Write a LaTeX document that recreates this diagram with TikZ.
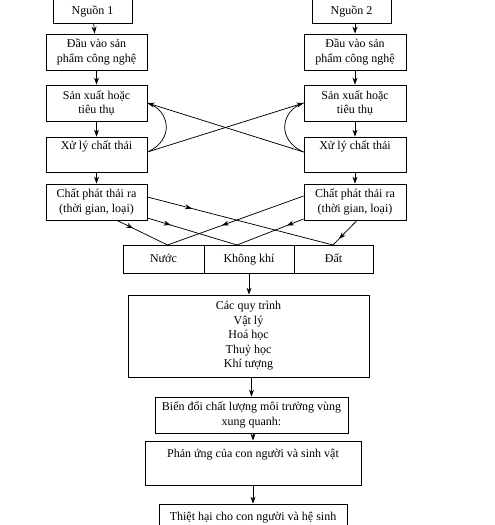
\documentclass[tikz,border=0pt]{standalone}
\usepackage{fontspec}
\setmainfont{Liberation Serif}
\usetikzlibrary{arrows.meta,decorations.markings}
\begin{document}
\begin{tikzpicture}[x=1pt,y=-1pt,
  box/.style={draw,line width=0.8pt,inner sep=0pt,align=center,font=\fontsize{12}{14.5}\selectfont},
  rowbox/.style={box,text height=9pt,text depth=3pt},
  arr/.style={line width=0.75pt,-{Stealth[length=7pt,width=5pt]}},
  ln/.style={line width=0.75pt},
  midarr/.style={line width=0.75pt,postaction={decorate},decoration={markings,mark=at position #1 with {\arrow{Stealth[length=7pt,width=5pt]}}}}
]
\useasboundingbox (0,0) rectangle (495,525);
\fill[white] (0,0) rectangle (495,525);
% left column
\node[box,minimum width=79,minimum height=24] (n1) at (92.5,11) {Nguồn 1};
\node[box,minimum width=101,minimum height=36] (d1) at (96.5,52) {Đầu vào sản\\phẩm công nghệ};
\node[box,minimum width=101,minimum height=36] (s1) at (96.5,103) {Sản xuất hoặc\\tiêu thụ};
\node[box,minimum width=101,minimum height=35] (x1) at (96.5,154.5) {Xử lý chất thải\\\strut};
\node[box,minimum width=101,minimum height=36] (c1) at (96.5,202) {Chất phát thải ra\\(thời gian, loại)};
% right column
\node[box,minimum width=79,minimum height=24] (n2) at (351.5,11) {Nguồn 2};
\node[box,minimum width=102,minimum height=36] (d2) at (355,52) {Đầu vào sản\\phẩm công nghệ};
\node[box,minimum width=102,minimum height=36] (s2) at (355,103) {Sản xuất hoặc\\tiêu thụ};
\node[box,minimum width=102,minimum height=35] (x2) at (355,154.5) {Xử lý chất thải\\\strut};
\node[box,minimum width=102,minimum height=36] (c2) at (355,202) {Chất phát thải ra\\(thời gian, loại)};
% media row
\node[rowbox,minimum width=81,minimum height=28] (w) at (163.5,259) {Nước};
\node[rowbox,minimum width=90,minimum height=28] (a) at (249,259) {Không khí};
\node[rowbox,minimum width=79,minimum height=28] (g) at (333.5,259) {Đất};
% lower chain
\node[box,minimum width=241,minimum height=82] (q) at (248.5,336) {Các quy trình\\Vật lý\\Hoá học\\Thuỷ học\\Khí tượng};
\node[box,minimum width=193,minimum height=36] (b) at (251.5,415) {Biến đổi chất lượng môi trường vùng\\xung quanh:};
\node[box,minimum width=216,minimum height=44] (p) at (253,463) {Phản ứng của con người và sinh vật\\\strut};
\node[box,minimum width=188,minimum height=44] (t) at (253,526) {Thiệt hại cho con người và hệ sinh\\\strut};
% vertical arrows
\draw[arr] (n1) -- (d1);
\draw[arr] (d1) -- (s1);
\draw[arr] (s1) -- (x1);
\draw[arr] (x1) -- (c1);
\draw[arr] (n2.south -| d2) -- (d2);
\draw[arr] (d2) -- (s2);
\draw[arr] (s2) -- (x2);
\draw[arr] (x2) -- (c2);
\draw[arr] (a.south) -- (a.south |- q.north);
\draw[arr] (q.south -| b) -- (b);
\draw[arr] (b.south -| p) -- (p);
\draw[arr] (p) -- (t);
% cross feedback
\coordinate (x1e) at ([yshift=2.5pt]x1.east);
\coordinate (x2w) at ([yshift=2.5pt]x2.west);
\draw[arr] (x1e) -- (s2.west);
\draw[arr] (x2w) -- (s1.east);
\draw[ln] (x1e) .. controls (175,140) and (170,110) .. (s1.east);
\draw[ln] (x2w) .. controls (276,140) and (281,110) .. (s2.west);
% emissions to media
\coordinate (wt) at (167.5,245);
\coordinate (at) at (237,245);
\coordinate (gt) at (333,245);
\draw[midarr=0.24] ([yshift=5pt]c1.east) -- (gt);
\draw[midarr=0.26] ([yshift=-16pt]c1.east) -- (at);
\draw[midarr=0.32] ([xshift=20.5pt]c1.south) -- (wt);
\draw[midarr=0.6] ([yshift=6pt]c2.west) -- (wt);
\draw[midarr=0.25] ([yshift=-17pt]c2.west) -- (at);
\draw[midarr=0.75] ([xshift=2pt]c2.south) -- (gt);
\end{tikzpicture}
\end{document}
